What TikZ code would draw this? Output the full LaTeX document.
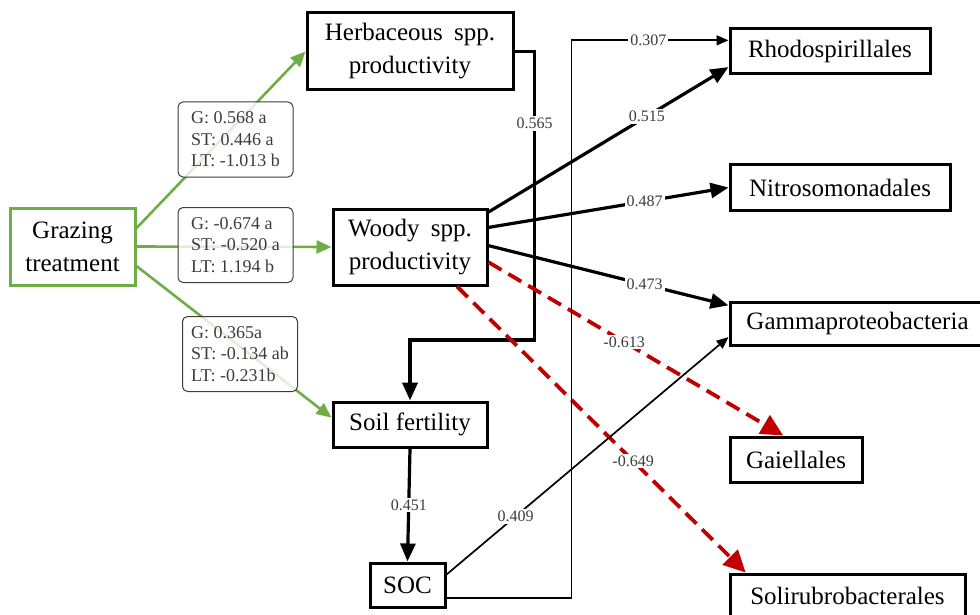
\documentclass[tikz,border=0pt]{standalone}
\usepackage{fontspec}
\setmainfont{Liberation Serif}
\usetikzlibrary{arrows.meta}
\definecolor{grzgreen}{RGB}{112,173,71}
\definecolor{negred}{RGB}{192,0,0}
\definecolor{lblgray}{RGB}{60,60,60}

\begin{document}
\begin{tikzpicture}[x=1pt, y=-1pt,
    var/.style={draw, line width=3pt, inner sep=0pt, align=center,
                font=\fontsize{25}{33}\selectfont},
    grp/.style={draw=lblgray, line width=1pt, rounded corners=5pt, fill=white,
                fill opacity=0.8, text opacity=1, align=left, inner sep=2pt,
                minimum width=115pt, minimum height=75pt,
                font=\fontsize{18}{21.5}\selectfont, text=lblgray},
    lbl/.style={fill=white, inner sep=2pt, font=\fontsize{16}{18}\selectfont, text=lblgray},
    grn/.style={draw=grzgreen, line width=2.6pt, -{Triangle[length=15pt,width=13pt]}},
    posarr/.style={line width=3.2pt, -{Triangle[length=18pt,width=15pt]}},
    thn/.style={line width=1.7pt, -{Triangle[length=12pt,width=10pt]}},
    neg/.style={draw=negred, line width=3.8pt, dash pattern=on 15pt off 8pt,
                -{Triangle[length=22pt,width=21pt]}}]
  \useasboundingbox (0,0) rectangle (980,615);

  % variables
  \node[var, draw=grzgreen, minimum width=125pt, minimum height=77pt] (graz) at (72.5,246.5) {Grazing\\treatment};
  \node[var, minimum width=206pt, minimum height=77pt] (herb) at (410,51.5) {Herbaceous\hspace{5pt} spp.\\productivity};
  \node[var, minimum width=154pt, minimum height=76pt] (woody) at (410,247) {Woody\hspace{5pt} spp.\\productivity};
  \node[var, minimum width=154pt, minimum height=45pt] (soil) at (410,424.5) {Soil fertility};
  \node[var, minimum width=75pt, minimum height=44pt] (soc) at (407.5,585) {SOC};

  % bacterial orders
  \node[var, minimum width=200pt, minimum height=45pt] (rhodo) at (830,51) {Rhodospirillales};
  \node[var, minimum width=220pt, minimum height=45pt] (nitro) at (840,187.5) {Nitrosomonadales};
  \node[var, minimum width=255pt, minimum height=43pt] (gamma) at (857.5,323.5) {Gammaproteobacteria};
  \node[var, minimum width=132pt, minimum height=45pt] (gaiel) at (796,459.5) {Gaiellales};
  \node[var, minimum width=235pt, minimum height=44pt] (solir) at (847.5,596) {Solirubrobacterales};

  % grazing effects
  \draw[grn] (graz.16) -- (herb.west);
  \draw[grn] (graz.east) -- (woody.west);
  \draw[grn] (graz.-17) -- (soil.175);
  \node[grp] (gherb) at (235.5,139.5) {G: 0.568 a\\ST: 0.446 a\\LT: -1.013 b};
  \node[grp] (gwoody) at (235.5,245) {G: -0.674 a\\ST: -0.520 a\\LT: 1.194 b};
  \node[grp] (gsoil) at (240,354) {G: 0.365a\\ST: -0.134 ab\\LT: -0.231b};

  % plant and soil paths
  \draw[posarr, line width=3.8pt] (herb.east) -- ++(20,0) -- node[lbl, pos=0.25] {0.565} ++(0,288.5) -| (soil.north);
  \draw[posarr] (soil.south) -- node[lbl] {0.451} (soc.north);

  % woody effects on bacteria
  \draw[posarr] (woody.24) -- node[lbl, pos=0.66] {0.515} (rhodo.189);
  \draw[posarr] (woody.14) -- node[lbl, pos=0.65] {0.487} (nitro.west);
  \draw[posarr] (woody.1) -- node[lbl, pos=0.65] {0.473} (gamma.172);
  \draw[neg] (woody.-11) -- node[lbl, pos=0.46] {-0.613} (gaiel.118);
  \draw[neg] (woody.-40) -- node[lbl, pos=0.61] {-0.649} (solir.167);

  % SOC effects on bacteria
  \draw[thn] (soc.15) -- node[lbl, pos=0.245] {0.409} (gamma.186);
  \draw[thn] (soc.-18) -- ++(125,0) |- node[lbl, pos=0.745] {0.307} (rhodo.174);
\end{tikzpicture}
\end{document}
